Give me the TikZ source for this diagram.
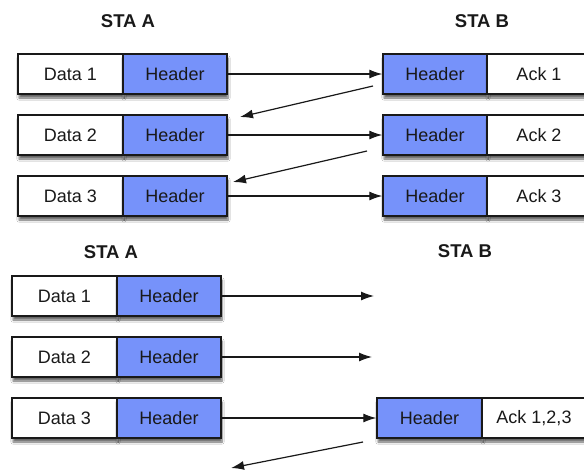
\documentclass[tikz,border=0pt]{standalone}
\usepackage{fontspec}
\setmainfont{Liberation Sans}
\usetikzlibrary{arrows.meta,shadows.blur}
\definecolor{hdrblue}{RGB}{118,146,250}
\definecolor{ink}{RGB}{25,25,25}
\tikzset{
  cell/.style={draw=ink, line width=1.4pt, minimum height=40pt, inner sep=0pt,
    font=\fontsize{18}{20}\selectfont, text=ink,
    blur shadow={shadow xshift=1pt, shadow yshift=-4pt, shadow blur steps=6, shadow opacity=60}},
  datacell/.style={cell, fill=white, minimum width=105pt},
  hdrcell/.style={cell, fill=hdrblue, minimum width=104pt},
  stalabel/.style={font=\bfseries\fontsize{18.5}{20}\selectfont, text=ink},
  msg/.style={draw=ink, line width=1.2pt, -{Latex[length=13pt,width=9pt]}}
}
\begin{document}
\begin{tikzpicture}[x=1pt,y=-1pt]
\clip (0,0) rectangle (584,475);
\fill[white] (0,0) rectangle (584,475);
% labels
\node[stalabel] (staA1) at (128,21) {STA A};
\node[stalabel] (staB1) at (482,21) {STA B};
\node[stalabel] (staA2) at (111,252) {STA A};
\node[stalabel] (staB2) at (465,251) {STA B};
% top STA A
\node[datacell] (d1) at (70.5,74) {Data 1};
\node[hdrcell] (h1) at (175,74) {Header};
\node[datacell] (d2) at (70.5,135) {Data 2};
\node[hdrcell] (h2) at (175,135) {Header};
\node[datacell] (d3) at (70.5,196) {Data 3};
\node[hdrcell] (h3) at (175,196) {Header};
% top STA B
\node[hdrcell] (bh1) at (435,74) {Header};
\node[datacell,minimum width=104pt] (ba1) at (539,74) {Ack 1};
\node[hdrcell] (bh2) at (435,135) {Header};
\node[datacell,minimum width=104pt] (ba2) at (539,135) {Ack 2};
\node[hdrcell] (bh3) at (435,196) {Header};
\node[datacell,minimum width=104pt] (ba3) at (539,196) {Ack 3};
% bottom STA A
\node[datacell] (d4) at (64.5,296) {Data 1};
\node[hdrcell] (h4) at (169,296) {Header};
\node[datacell] (d5) at (64.5,357) {Data 2};
\node[hdrcell] (h5) at (169,357) {Header};
\node[datacell] (d6) at (64.5,418) {Data 3};
\node[hdrcell] (h6) at (169,418) {Header};
% bottom STA B
\node[hdrcell,minimum width=105pt] (bh4) at (429.5,418) {Header};
\node[datacell,minimum width=104pt] (ba4) at (534,418) {Ack 1,2,3};
% free ends
\coordinate (ack1s) at (373,86);
\coordinate (ack1e) at (240,117);
\coordinate (ack2s) at (367,151);
\coordinate (ack2e) at (233,182);
\coordinate (m4e) at (374,296);
\coordinate (m5e) at (372,357);
\coordinate (ack3s) at (363,442);
\coordinate (ack3e) at (231,468);
% connectors
\draw[msg] (h1.east) -- (bh1.west);
\draw[msg] (h2.east) -- (bh2.west);
\draw[msg] (h3.east) -- (bh3.west);
\draw[msg] (ack1s) -- (ack1e);
\draw[msg] (ack2s) -- (ack2e);
\draw[msg] (h4.east) -- (m4e);
\draw[msg] (h5.east) -- (m5e);
\draw[msg] (h6.east) -- (bh4.west);
\draw[msg] (ack3s) -- (ack3e);
\end{tikzpicture}
\end{document}
